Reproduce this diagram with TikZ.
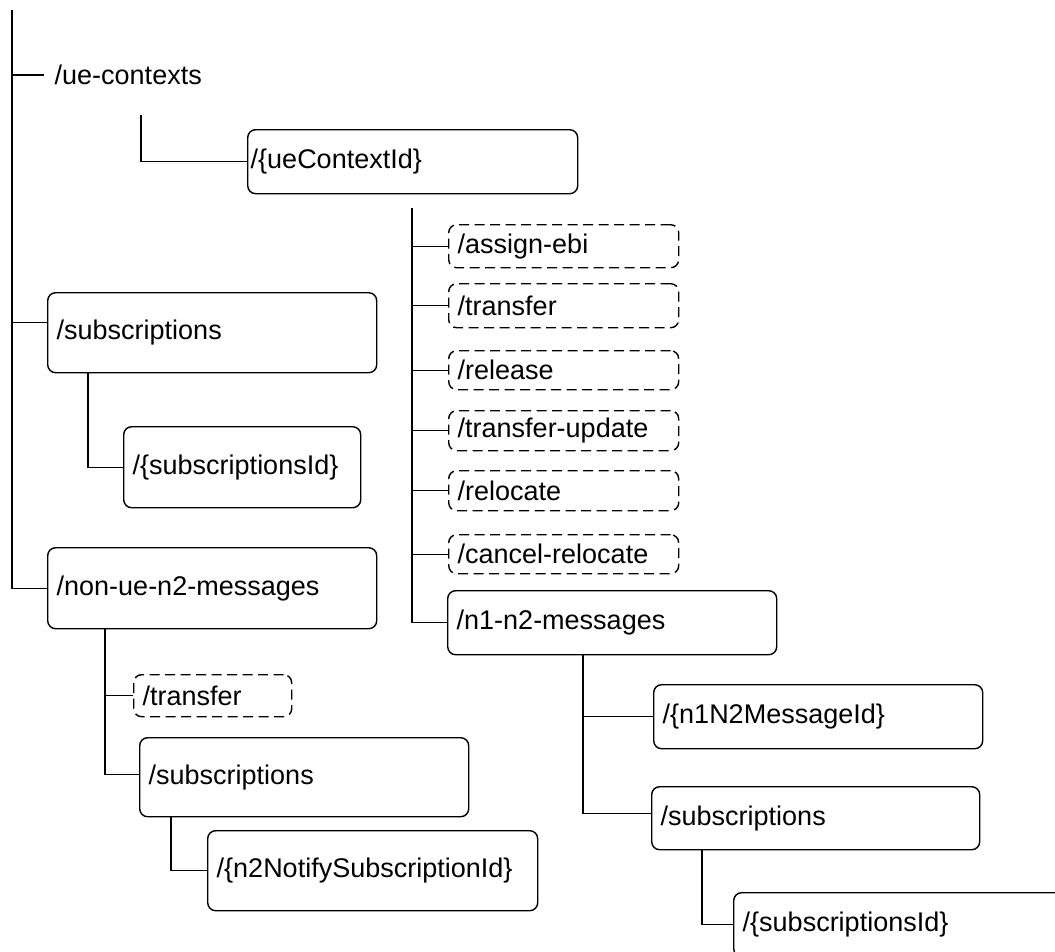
\documentclass[tikz,border=0pt]{standalone}
\usepackage{fontspec}
\setmainfont{Liberation Sans}
\usetikzlibrary{positioning, calc}

\begin{document}
\begin{tikzpicture}[x=1pt, y=-1pt, line width=1.4pt,
    font=\fontsize{27}{30}\selectfont,
    res/.style 2 args={draw, rounded corners=8pt, anchor=north west,
        inner xsep=9pt, inner ysep=0pt, text width=#1-18, minimum height=#2, align=left},
    resopt/.style 2 args={res={#1}{#2}, dash pattern=on 10pt off 5.5pt}]
    \path[use as bounding box, clip] (0,0) rectangle (1055,951);

    % top of the tree
    \coordinate (root) at (12,10);
    \node[anchor=west, inner xsep=10pt] (ue) at (44,75) {/ue-contexts};
    \coordinate (uedrop) at (141,115);
    \node[res={330}{64}, inner xsep=3pt, text width=324] (ctx) at (247,129) {/\{ueContextId\}};

    % custom operations of one context
    \node[resopt={230}{43}] (ebi) at (448,224) {/assign-ebi};
    \node[resopt={230}{44}] (xfer) at (448,283) {/transfer};
    \node[resopt={230}{39}] (rel) at (448,350) {/release};
    \node[resopt={230}{40}] (xupd) at (448,410) {/transfer-update};
    \node[resopt={230}{40}] (reloc) at (448,470) {/relocate};
    \node[resopt={230}{39}] (cancel) at (448,534) {/cancel-relocate};
    \node[res={329}{64}] (nmsg) at (447,590) {/n1-n2-messages};
    \node[res={329}{64}] (nid) at (653,684) {/\{n1N2MessageId\}};
    \node[res={328}{63}] (nsubs) at (651,786) {/subscriptions};
    \node[res={330}{64}] (nsubsid) at (733,892) {/\{subscriptionsId\}};

    % left branch
    \node[res={329}{80}] (subs) at (47,292) {/subscriptions};
    \node[res={237}{81}] (subsid) at (123,426) {/\{subscriptionsId\}};
    \node[res={329}{81}] (nonue) at (47,547) {/non-ue-n2-messages};
    \node[resopt={158}{42}] (xferl) at (133,674) {/transfer};
    \node[res={329}{79}] (subsl) at (139,737) {/subscriptions};
    \node[res={330}{80}] (n2id) at (207,830) {/\{n2NotifySubscriptionId\}};

    % drop points under the parents
    \coordinate (ctxdrop) at ($(ctx.south west)+(165,14)$);
    \coordinate (nmsgdrop) at ($(nmsg.south west)+(136,0)$);
    \coordinate (nsubsdrop) at ($(nsubs.south west)+(51,0)$);
    \coordinate (subsdrop) at ($(subs.south west)+(41,0)$);
    \coordinate (nonuedrop) at ($(nonue.south west)+(58,0)$);
    \coordinate (subsldrop) at ($(subsl.south west)+(32,0)$);

    % connectors
    \draw (root) |- (ue.west);
    \draw (root) |- ([yshift=10pt]subs.west);
    \draw (root) |- (nonue.west);
    \draw (uedrop) |- (ctx.west);
    \foreach \n in {ebi,xfer,rel,xupd,reloc,cancel,nmsg} {
        \draw (ctxdrop) |- (\n.west);
    }
    \draw (nmsgdrop) |- (nid.west);
    \draw (nmsgdrop) |- ([yshift=5pt]nsubs.west);
    \draw (nsubsdrop) |- (nsubsid.west);
    \draw (subsdrop) |- (subsid.west);
    \draw (nonuedrop) |- (xferl.west);
    \draw (nonuedrop) |- ([yshift=3pt]subsl.west);
    \draw (subsldrop) |- (n2id.west);
\end{tikzpicture}
\end{document}
